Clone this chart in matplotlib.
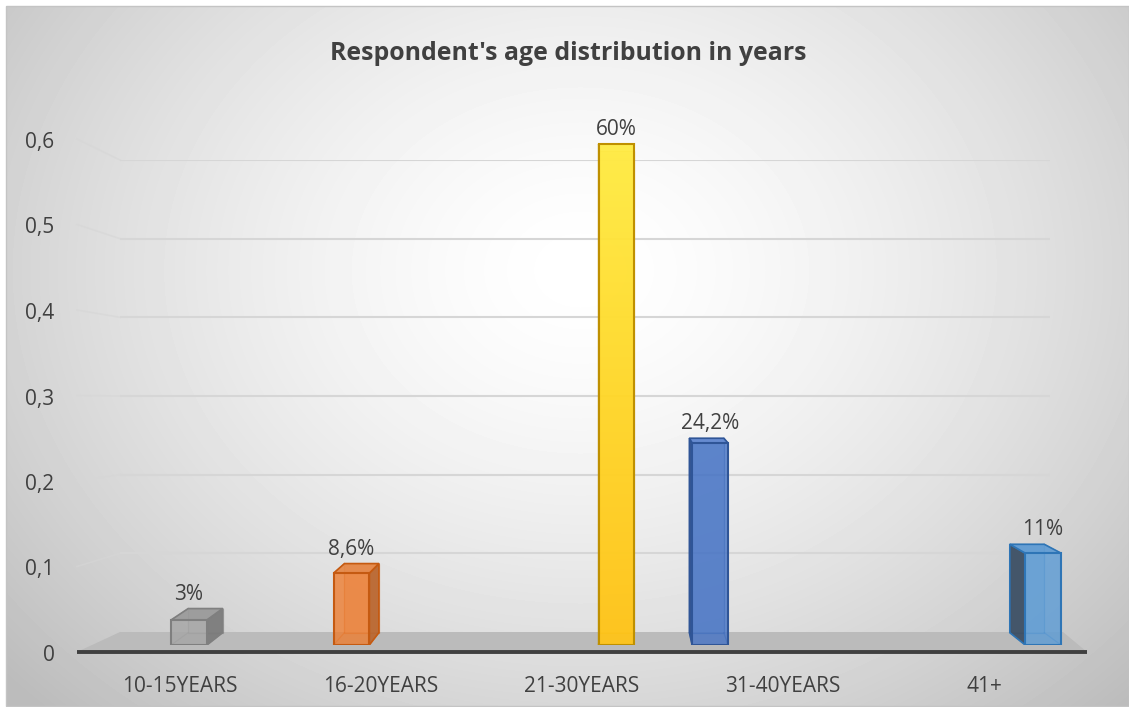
import numpy as np
import matplotlib
matplotlib.use("Agg")
import matplotlib.pyplot as plt
from matplotlib.patches import Polygon, Rectangle
from matplotlib.ticker import FuncFormatter
from matplotlib.colors import to_rgba

# ---- data ----
categories = ["10-15YEARS", "16-20YEARS", "21-30YEARS", "31-40YEARS", "41+"]
shares = [0.03, 0.086, 0.60, 0.242, 0.11]
value_labels = ["3%", "8,6%", "60%", "24,2%", "11%"]
y_ticks = [0, 0.1, 0.2, 0.3, 0.4, 0.5, 0.6]
title = "Respondent's age distribution in years"

# ---- style ----
face_colors = ["#a5a5a5", "#ed7d31", "#ffc000", "#4472c4", "#5b9bd5"]
edge_colors = ["#7f7f7f", "#c55a11", "#bf9000", "#2f5597", "#2e75b6"]
side_colors = ["#7a7a7a", "#b9662f", "#d9a400", "#2c4f8c", "#3b4d61"]
top_colors = ["#9a9a9a", "#e58746", "#ffe14d", "#5f86cf", "#5f9bd3"]
bar_shift = [0.045, -0.147, 0.172, -0.363, 0.294]   # cluster slot of each series
bar_width = 0.178
text_color = "#404040"

plt.rcParams["font.family"] = ["Open Sans", "DejaVu Sans"]
plt.rcParams["font.size"] = 15

W, H = 1129, 707
fig = plt.figure(figsize=(W / 100, H / 100), dpi=100)
fig.patch.set_facecolor("white")


def fx(px):
    return px / W


def fy(py):
    return 1 - py / H


# ---- background: radial gradient chart area with floor ----
bg = fig.add_axes([0, 0, 1, 1], zorder=0)
bg.set_xlim(0, W)
bg.set_ylim(H, 0)
bg.axis("off")
yy, xx = np.mgrid[6:706, 6:W]
d = np.sqrt(((xx - 580) / 700.0) ** 2 + ((yy - 270) / 560.0) ** 2)
shade = 1 - 0.23 * np.clip(d, 0, 1.1) ** 1.5
bg.imshow(shade, cmap="gray", vmin=0, vmax=1, extent=(6, W, 706, 6),
          aspect="auto", interpolation="bilinear")
bg.add_patch(Rectangle((6, 6), W - 6.5, 700, fill=False, ec="#c4c4c4", lw=1))
bg.add_patch(Polygon([(77, 652), (120, 632), (1063, 632), (1087, 652)],
                     closed=True, fc="#bbbbbb", ec="none"))
bg.plot([77, 1087], [652, 652], color="#404040", lw=2.8, solid_capstyle="butt")

# ---- back wall gridlines ----
ax_back = fig.add_axes([fx(120), fy(632), fx(1050) - fx(120), fy(160) - fy(632)],
                       zorder=1)
ax_back.set_xlim(0, 1)
ax_back.set_ylim(0, 0.6)
ax_back.axis("off")
for v in y_ticks[1:]:
    ax_back.axhline(v, color="#d6d6d6", lw=1.5)

# ---- value axis labels (front plane) ----
ax_front = fig.add_axes([fx(56), fy(653), fx(10), fy(140) - fy(653)], zorder=3)
ax_front.set_ylim(0, 0.6)
ax_front.set_xticks([])
ax_front.set_yticks(y_ticks)
ax_front.yaxis.set_major_formatter(
    FuncFormatter(lambda v, _: "0" if v == 0 else f"{v:.1f}".replace(".", ",")))
ax_front.tick_params(axis="y", length=0, pad=1, labelcolor=text_color, labelsize=15)
ax_front.patch.set_visible(False)
for s in ax_front.spines.values():
    s.set_visible(False)

# side wall gridlines connecting the back wall to the front plane
inv_bg = bg.transData.inverted()
for v in y_ticks[1:]:
    pb = inv_bg.transform(ax_back.transData.transform((0, v)))
    pf_y = inv_bg.transform(ax_front.transData.transform((0, v)))[1]
    bg.plot([77, pb[0]], [pf_y - 1, pb[1]], color="#d6d6d6", lw=1.2, alpha=0.6)

# ---- bars ----
ax = fig.add_axes([fx(79.5), fy(645), 1005 / W, 0.7 * 835 / H], zorder=2)
ax.set_xlim(-0.5, 4.5)
ax.set_ylim(0, 0.7)
ax.patch.set_visible(False)
for s in ax.spines.values():
    s.set_visible(False)
ax.set_yticks([])
ax.set_xticks(range(len(categories)))
ax.set_xticklabels(categories)
ax.tick_params(axis="x", length=0, pad=22, labelcolor=text_color, labelsize=15)

xpos = np.arange(len(categories)) + np.array(bar_shift)
bars = ax.bar(xpos, shares, width=bar_width,
              color=[to_rgba(c, 0.8) for c in face_colors],
              edgecolor=edge_colors, linewidth=1.5, zorder=3)

# yellow column gets a vertical gradient fill
yb = bars[2]
grad = np.linspace(0, 1, 256)[:, None]
ycmap = matplotlib.colors.LinearSegmentedColormap.from_list(
    "yel", ["#ffc419", "#ffd82a", "#ffec45"])
img = ax.imshow(grad, cmap=ycmap, origin="lower", aspect="auto",
                extent=(yb.get_x(), yb.get_x() + yb.get_width(), 0, yb.get_height()),
                zorder=2.9, alpha=0.95)
img.set_clip_path(yb)
yb.set_facecolor("none")
ax.set_xlim(-0.5, 4.5)
ax.set_ylim(0, 0.7)

# 3D box faces using a one-point perspective toward the vanishing point
V = np.array([620.0, H - 320.0])
k = 0.038
to_disp = ax.transData.transform
to_data = ax.transData.inverted().transform

for i, b in enumerate(bars):
    x0, x1 = b.get_x(), b.get_x() + b.get_width()
    h = b.get_height()
    front = np.array([(x0, 0), (x1, 0), (x1, h), (x0, h)])
    fd = to_disp(front)
    bd = fd + k * (V - fd)
    back = to_data(bd)
    ec = edge_colors[i]

    ax.add_patch(Polygon(back, closed=True, fc=to_rgba(face_colors[i], 0.3),
                         ec=to_rgba(ec, 0.5), lw=0.9, zorder=1))
    for j in range(4):
        ax.plot([front[j][0], back[j][0]], [front[j][1], back[j][1]],
                color=ec, alpha=0.5, lw=0.9, zorder=1.2)

    if fd[1][0] < V[0]:
        side = [front[1], front[2], back[2], back[1]]
    else:
        side = [front[0], front[3], back[3], back[0]]
    ax.add_patch(Polygon(side, closed=True, fc=to_rgba(side_colors[i], 0.92),
                         ec=ec, lw=1.2, zorder=1.5))
    if fd[2][1] < V[1]:
        top = [front[3], front[2], back[2], back[3]]
        ax.add_patch(Polygon(top, closed=True, fc=to_rgba(top_colors[i], 0.92),
                             ec=ec, lw=1.2, zorder=1.6))

    top_y = max(h, back[2][1])
    ax.annotate(value_labels[i], (b.get_x() + b.get_width() / 2, top_y),
                xytext=(0, 9), textcoords="offset pixels", ha="center",
                va="baseline", color=text_color, fontsize=15, zorder=4)

# ---- title ----
fig.text(fx(568), fy(54), title, ha="center", va="center", fontsize=17.9,
         fontweight="bold", color=text_color)

fig.savefig("out.png", dpi=100)
